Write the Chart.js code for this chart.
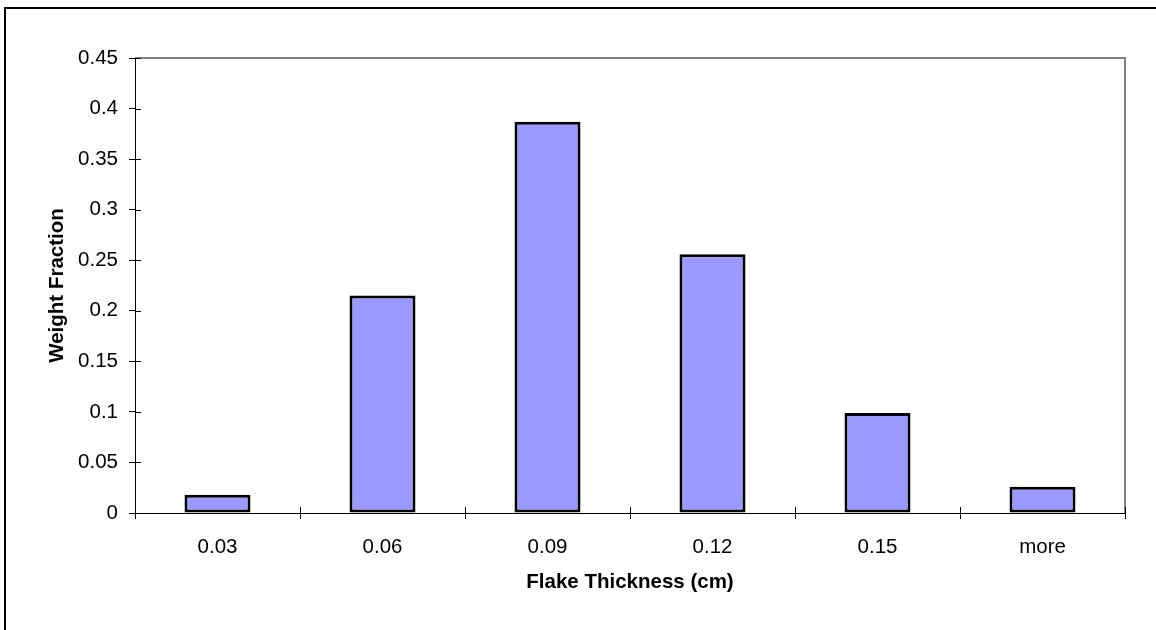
<!DOCTYPE html>
<html>
<head>
<meta charset="utf-8">
<script src="https://cdn.jsdelivr.net/npm/chart.js@4.4.1/dist/chart.umd.min.js"></script>
<style>
  html, body { margin: 0; padding: 0; background: #ffffff; }
  #wrap { width: 1156px; height: 630px; position: relative; }
</style>
</head>
<body>
<div id="wrap"><canvas id="c" width="1156" height="630"></canvas></div>
<script>
// Flake thickness histogram: weight fraction per thickness class
const categories = ['0.03', '0.06', '0.09', '0.12', '0.15', 'more'];
const weightFraction = [0.018, 0.215, 0.387, 0.256, 0.099, 0.026];
const yTickMin = 0;
const yTickMax = 0.45;
const yTickStep = 0.05;

const FONT = 'Liberation Sans, Arial, Helvetica, sans-serif';

// frame, plot border and tick marks that cross the axes
const decorations = {
  id: 'decorations',
  beforeDraw(chart) {
    const ctx = chart.ctx;
    ctx.save();
    ctx.fillStyle = '#ffffff';
    ctx.fillRect(0, 0, chart.width, chart.height);
    ctx.strokeStyle = '#000000';
    ctx.lineWidth = 2;
    ctx.strokeRect(5, 8, chart.width + 20, chart.height + 20);
    ctx.restore();
  },
  afterDraw(chart) {
    const ctx = chart.ctx;
    const a = chart.chartArea;
    const xs = chart.scales.x;
    const ys = chart.scales.y;
    ctx.save();
    // gray top/right plot border
    ctx.strokeStyle = '#808080';
    ctx.lineWidth = 2;
    ctx.beginPath();
    ctx.moveTo(a.left, a.top);
    ctx.lineTo(a.right, a.top);
    ctx.lineTo(a.right, a.bottom);
    ctx.stroke();
    // inward halves of the tick marks
    ctx.strokeStyle = '#000000';
    ctx.lineWidth = 1;
    ctx.beginPath();
    ys.ticks.forEach((t, i) => {
      const y = Math.round(ys.getPixelForTick(i)) + 0.5;
      ctx.moveTo(a.left, y);
      ctx.lineTo(a.left + 6, y);
    });
    for (let i = 0; i <= categories.length; i++) {
      const x = Math.round(xs.getPixelForValue(i - 0.5)) + 0.5;
      ctx.moveTo(x, a.bottom);
      ctx.lineTo(x, a.bottom - 6);
    }
    ctx.stroke();
    // black axis lines
    ctx.beginPath();
    ctx.moveTo(Math.round(a.left) + 0.5, a.top);
    ctx.lineTo(Math.round(a.left) + 0.5, a.bottom);
    ctx.moveTo(a.left, Math.round(a.bottom) + 0.5);
    ctx.lineTo(a.right, Math.round(a.bottom) + 0.5);
    ctx.stroke();
    ctx.restore();
  }
};

new Chart(document.getElementById('c'), {
  type: 'bar',
  data: {
    labels: categories,
    datasets: [{
      data: weightFraction,
      backgroundColor: '#9999ff',
      borderColor: '#000000',
      borderWidth: 3,
      borderSkipped: false,
      categoryPercentage: 1.0,
      barPercentage: 0.4
    }]
  },
  options: {
    responsive: false,
    animation: false,
    devicePixelRatio: 1,
    layout: { padding: { left: 0, top: 58, right: 31, bottom: 0 } },
    plugins: { legend: { display: false }, tooltip: { enabled: false } },
    scales: {
      x: {
        grid: { display: true, drawOnChartArea: false, offset: true, tickLength: 6, color: '#000000', lineWidth: 1 },
        border: { display: false },
        ticks: { color: '#000000', font: { family: FONT, size: 20.5 }, padding: 16, maxRotation: 0, autoSkip: false },
        title: { display: true, text: 'Flake Thickness (cm)', color: '#000000', font: { family: FONT, size: 20.5, weight: 'bold' }, padding: { top: 0, bottom: 35 } },
        afterFit(scale) { scale.height = 117; }
      },
      y: {
        min: yTickMin,
        max: yTickMax,
        grid: { display: true, drawOnChartArea: false, tickLength: 6, color: '#000000', lineWidth: 1 },
        border: { display: false },
        ticks: {
          stepSize: yTickStep,
          color: '#000000',
          font: { family: FONT, size: 20.5 },
          padding: 11,
          callback: (v) => String(Math.round(v * 100) / 100)
        },
        title: { display: true, text: 'Weight Fraction', color: '#000000', font: { family: FONT, size: 20.5, weight: 'bold' }, padding: { top: 45, bottom: 0 } },
        afterFit(scale) { scale.width = 135; }
      }
    }
  },
  plugins: [decorations]
});
</script>
</body>
</html>
